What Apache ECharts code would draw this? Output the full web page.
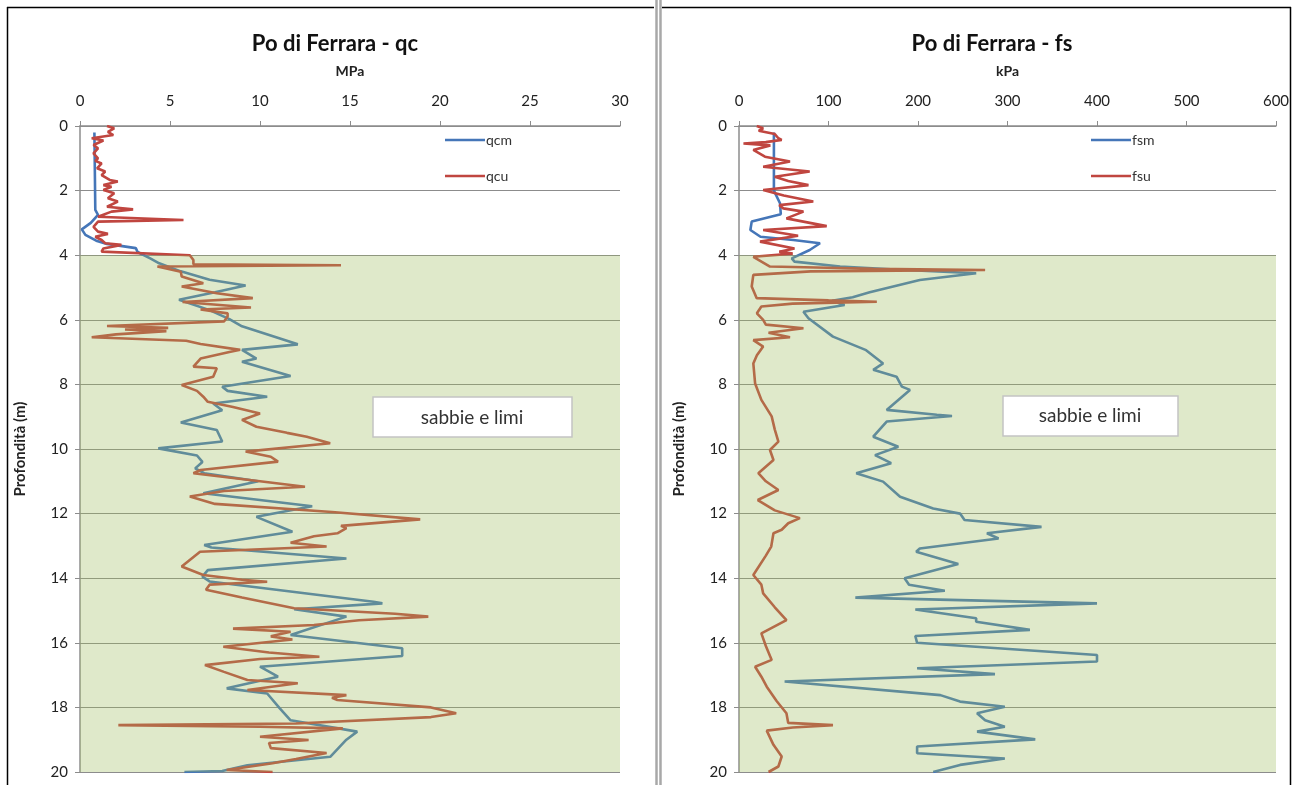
<!DOCTYPE html>
<html>
<head>
<meta charset="utf-8">
<script src="https://cdn.jsdelivr.net/npm/echarts@6/dist/echarts.min.js"></script>
<style>
html,body{margin:0;padding:0;background:#fff;}
#chart{width:1298px;height:785px;}
</style>
</head>
<body>
<div id="chart"></div>
<script>
// ---------------- DATA ----------------
const qcTicks = [0, 5, 10, 15, 20, 25, 30];
const fsTicks = [0, 100, 200, 300, 400, 500, 600];
const depthTicks = [0, 2, 4, 6, 8, 10, 12, 14, 16, 18, 20];

// qcm (MPa) vs depth (m)
const qcmDepth = [0.2,2.6,2.75,3.0,3.2,3.37,3.55,3.65,3.78,3.9,4.1,4.25,4.5,4.76,4.94,5.15,5.38,5.7,5.98,6.2,6.76,6.93,7.2,7.3,7.74,8.07,8.2,8.38,8.59,8.8,9.18,9.41,9.77,9.98,10.2,10.4,10.6,10.75,11.0,11.37,11.77,12.1,12.56,12.97,13.05,13.39,13.75,13.95,14.1,14.73,14.78,14.96,15.19,15.76,16.17,16.41,16.74,17.05,17.41,17.57,18.03,18.4,18.75,19.0,19.53,19.79,19.97,20.0];
const qcmValue = [0.8,0.85,1.0,0.6,0.1,0.3,0.9,1.5,3.1,3.2,3.9,4.4,5.6,7.2,9.2,7.5,5.5,7.2,8.3,9.0,12.1,9.0,9.8,9.0,11.7,7.9,8.2,10.4,7.4,7.9,5.6,7.6,7.9,4.35,6.5,6.8,6.4,6.9,9.9,6.85,12.9,9.8,11.8,6.9,7.3,14.8,7.1,6.8,7.2,16.3,16.8,11.9,14.8,11.7,17.9,17.9,10.0,11.0,8.15,10.4,11.1,11.7,15.4,14.8,13.9,9.3,7.9,5.8];

// qcu (MPa) vs depth (m)
const qcuDepth = [0.0,0.07,0.18,0.28,0.38,0.45,0.59,0.69,0.85,1.0,1.08,1.16,1.31,1.41,1.52,1.67,1.72,1.83,1.88,1.98,2.08,2.24,2.34,2.5,2.58,2.65,2.81,2.91,2.96,3.12,3.27,3.34,3.43,3.53,3.63,3.68,3.79,3.89,3.94,4.0,4.15,4.28,4.31,4.35,4.41,4.51,4.66,4.87,4.97,5.18,5.33,5.45,5.62,5.68,5.8,5.9,6.05,6.19,6.25,6.3,6.35,6.45,6.54,6.65,6.75,6.93,7.0,7.2,7.45,7.5,7.76,8.02,8.2,8.38,8.54,8.7,8.9,9.1,9.31,9.5,9.62,9.82,10.08,10.24,10.39,10.65,10.75,11.0,11.17,11.3,11.47,11.7,11.95,12.18,12.38,12.45,12.61,12.7,12.9,13.02,13.18,13.64,13.9,14.05,14.11,14.2,14.36,14.6,14.93,15.1,15.19,15.3,15.45,15.56,15.66,15.8,15.9,16.12,16.3,16.43,16.5,16.69,16.9,17.15,17.25,17.46,17.62,17.7,17.77,18.0,18.18,18.3,18.5,18.55,18.6,18.65,18.91,19.01,19.1,19.26,19.41,19.6,19.73,19.94,20.0];
const qcuValue = [1.5,1.9,1.55,1.85,0.65,1.3,0.75,1.0,0.75,1.0,0.85,1.2,0.95,1.4,1.2,1.65,2.1,1.3,1.75,1.3,1.9,1.55,2.1,1.5,2.95,1.75,1.0,5.75,1.0,0.75,1.0,1.55,0.85,1.2,1.4,2.3,1.3,1.2,1.1,6.1,6.3,6.3,14.5,4.3,4.3,5.6,5.65,6.85,5.65,7.6,9.6,5.7,9.5,6.7,8.2,8.2,8.0,1.5,4.9,2.5,4.8,2.0,0.65,5.9,6.7,8.9,8.3,6.7,6.3,7.6,7.4,5.65,6.5,6.85,7.1,8.5,10.0,9.0,9.8,11.5,12.6,13.9,9.2,10.6,11.0,6.7,6.3,10.0,12.5,8.0,6.1,7.5,14.0,18.9,14.5,14.8,14.3,13.0,11.7,13.7,6.67,5.65,6.85,9.0,10.4,7.2,7.0,9.0,11.9,17.5,19.35,15.5,13.0,8.5,11.7,10.6,11.8,7.96,10.5,13.3,10.0,6.94,8.0,9.3,12.1,9.3,14.8,14.0,14.3,19.5,20.9,19.5,12.0,2.13,10.0,14.6,10.0,12.7,10.5,10.6,13.7,12.0,10.7,8.15,10.7];

// fsm (kPa) vs depth (m)
const fsmDepth = [0.2,2.0,2.39,2.73,2.96,3.22,3.43,3.53,3.63,3.84,4.1,4.2,4.35,4.45,4.56,4.77,5.15,5.3,5.41,5.54,5.75,5.95,6.52,6.94,7.35,7.55,7.76,8.07,8.17,8.79,8.94,8.98,9.15,9.62,9.93,10.19,10.44,10.75,11.01,11.48,11.84,12.0,12.2,12.41,12.61,12.77,13.08,13.18,13.56,14.0,14.2,14.39,14.6,14.78,14.97,15.24,15.35,15.6,15.79,16.0,16.38,16.58,16.79,16.97,17.2,17.62,17.82,17.98,18.18,18.4,18.6,18.75,18.99,19.21,19.42,19.58,19.78,20.0];
const fsmValue = [39,39,45.8,46.7,14.2,12.7,24,60.7,90.5,79,59,62,113,180,265,202,146,127,104,118,72,77.6,105,142,161,150,176,182,191,165,221,238,165,150,178,152,170,131,161,180,217,247,252,338,277,290,202,198,245,185,190,230,130,400,197,265,265,325,197,199,400,400,199,286,51,225,247,297,266,275,297,266,331,199,199,297,247,217];

// fsu (kPa) vs depth (m)
const fsuDepth = [0.0,0.07,0.15,0.25,0.38,0.43,0.5,0.54,0.6,0.74,0.95,1.1,1.26,1.41,1.57,1.7,1.83,1.98,2.15,2.34,2.45,2.55,2.65,2.86,3.1,3.22,3.4,3.58,3.79,3.89,3.95,4.05,4.35,4.42,4.46,4.5,4.61,4.97,5.33,5.4,5.44,5.5,5.59,5.8,6.0,6.15,6.26,6.4,6.54,6.63,6.83,7.1,7.35,7.97,8.48,8.99,9.4,9.77,10.03,10.34,10.75,11.0,11.27,11.58,11.9,12.14,12.3,12.5,12.61,13.02,13.3,13.9,14.2,14.47,14.9,15.3,15.71,16.1,16.53,16.74,17.05,17.36,17.8,18.18,18.48,18.55,18.62,18.72,19.16,19.52,19.83,20.0];
const fsuValue = [19.8,27,22,40,44,47.7,30,5,35,16,29,57,27,79,40,55,77.6,27,50,83,45,49.5,72,53,98,27,66,23.5,62,45,60,16,34.6,150,275,80,16,14.2,19.8,100,154,60,25,20,27,30,72,33,57,16,27,20,16,18,25,36.5,40,44,34.6,38.5,21.6,30,44,21,40,68,55,47.7,38.5,36,30,16,25,27,40,53,25,30,36.5,18,25,31,42,53,55,105,60,31,38.5,47.7,44,33];

const layerTop = 4, layerBottom = 20;
const layerLabel = 'sabbie e limi';

// ---------------- CHART ----------------
function pairs(vals, deps){ return vals.map((v,i)=>[v, deps[i]]); }

const FONT = 'Lato, "Open Sans", sans-serif';
const BLUE = '#4576B8';
const RED = '#C04640';
const GRAY = '#8c8c8c';

const chart = echarts.init(document.getElementById('chart'), null, {renderer:'canvas'});

function xAxisCfg(idx, max, interval, name){
  return {
    type:'value', gridIndex: idx, position:'top', min:0, max:max, interval:interval,
    name:name, nameLocation:'middle', nameGap:48,
    nameTextStyle:{fontFamily:FONT, fontWeight:'bold', fontSize:14, color:'#222'},
    axisLine:{show:true, onZero:false, lineStyle:{color:GRAY, width:1.5}},
    axisTick:{show:true, inside:false, length:5, lineStyle:{color:GRAY}},
    axisLabel:{fontFamily:FONT, fontSize:15, color:'#222', margin:17},
    splitLine:{show:false}
  };
}
function yAxisCfg(idx){
  return {
    type:'value', gridIndex: idx, inverse:true, min:0, max:20, interval:2,
    name:'Profondità (m)', nameLocation:'middle', nameGap:52, nameRotate:90,
    nameTextStyle:{fontFamily:FONT, fontWeight:'bold', fontSize:15, color:'#222'},
    axisLine:{show:true, onZero:false, lineStyle:{color:GRAY, width:1.5}},
    axisTick:{show:true, inside:false, length:5, lineStyle:{color:GRAY}},
    axisLabel:{fontFamily:FONT, fontSize:15, color:'#222', margin:12},
    splitLine:{show:true, lineStyle:{color:GRAY, width:1.2}}
  };
}

function lineSeries(name, xi, data, color){
  return {
    name:name, type:'line', xAxisIndex:xi, yAxisIndex:xi, data:data,
    showSymbol:false, symbol:'none', smooth:false, z:2,
    lineStyle:{color:color, width:2.6}, itemStyle:{color:color},
    emphasis:{disabled:true}
  };
}
function bandSeries(xi, xmax){
  return {
    name:'band'+xi, type:'line', xAxisIndex:xi, yAxisIndex:xi, data:[], z:10, clip:false,
    markArea:{
      silent:true, z:10,
      itemStyle:{color:'rgba(155,187,89,0.32)'},
      data:[[{coord:[0, layerTop]}, {coord:[xmax, layerBottom]}]]
    }
  };
}

const option = {
  animation:false,
  backgroundColor:'#ffffff',
  title:[
    {text:'Po di Ferrara - qc', left:330, top:28, textAlign:'center',
     textStyle:{fontFamily:FONT, fontWeight:'bold', fontSize:22, color:'#111'}},
    {text:'Po di Ferrara - fs', left:987, top:28, textAlign:'center',
     textStyle:{fontFamily:FONT, fontWeight:'bold', fontSize:22, color:'#111'}}
  ],
  grid:[
    {left:80, top:126, width:540, height:646},
    {left:739, top:126, width:537, height:646}
  ],
  xAxis:[ xAxisCfg(0, 30, 5, 'MPa'), xAxisCfg(1, 600, 100, 'kPa') ],
  yAxis:[ yAxisCfg(0), yAxisCfg(1) ],
  legend:[
    {data:['qcm','qcu'], left:440, top:128, orient:'vertical', itemGap:22,
     icon:'rect', itemWidth:40, itemHeight:2.5,
     textStyle:{fontFamily:FONT, fontSize:14, color:'#333', padding:[0,0,0,-4]}},
    {data:['fsm','fsu'], left:1086, top:128, orient:'vertical', itemGap:22,
     icon:'rect', itemWidth:40, itemHeight:2.5,
     textStyle:{fontFamily:FONT, fontSize:14, color:'#333', padding:[0,0,0,-4]}}
  ],
  series:[
    lineSeries('qcm', 0, pairs(qcmValue, qcmDepth), BLUE),
    lineSeries('qcu', 0, pairs(qcuValue, qcuDepth), RED),
    lineSeries('fsm', 1, pairs(fsmValue, fsmDepth), BLUE),
    lineSeries('fsu', 1, pairs(fsuValue, fsuDepth), RED),
    bandSeries(0, 30.3),
    bandSeries(1, 606)
  ],
  graphic:[
    // panel frames
    {type:'line', shape:{x1:7, y1:7.5, x2:654, y2:7.5}, style:{stroke:'#000', lineWidth:1.5}, z:100},
    {type:'line', shape:{x1:7.5, y1:7, x2:7.5, y2:785}, style:{stroke:'#000', lineWidth:1.5}, z:100},
    {type:'line', shape:{x1:656.5, y1:0, x2:656.5, y2:785}, style:{stroke:'#a8a8a8', lineWidth:2.5}, z:100},
    {type:'line', shape:{x1:660.5, y1:0, x2:660.5, y2:785}, style:{stroke:'#a8a8a8', lineWidth:2.5}, z:100},
    {type:'line', shape:{x1:662, y1:7.5, x2:1291, y2:7.5}, style:{stroke:'#000', lineWidth:1.5}, z:100},
    {type:'line', shape:{x1:1290.5, y1:7, x2:1290.5, y2:785}, style:{stroke:'#000', lineWidth:1.5}, z:100},
    // annotation boxes
    {type:'group', z:100, children:[
      {type:'rect', shape:{x:373, y:397, width:199, height:40}, style:{fill:'#fff', stroke:'#c4c4c4', lineWidth:1.5}, z:100},
      {type:'text', x:472, y:418, style:{text:layerLabel, fontFamily:FONT, fontSize:19, fill:'#333', align:'center', verticalAlign:'middle'}, z:101}
    ]},
    {type:'group', z:100, children:[
      {type:'rect', shape:{x:1003, y:396, width:175, height:40}, style:{fill:'#fff', stroke:'#c4c4c4', lineWidth:1.5}, z:100},
      {type:'text', x:1090, y:416, style:{text:layerLabel, fontFamily:FONT, fontSize:19, fill:'#333', align:'center', verticalAlign:'middle'}, z:101}
    ]}
  ]
};
chart.setOption(option);
</script>
</body>
</html>
